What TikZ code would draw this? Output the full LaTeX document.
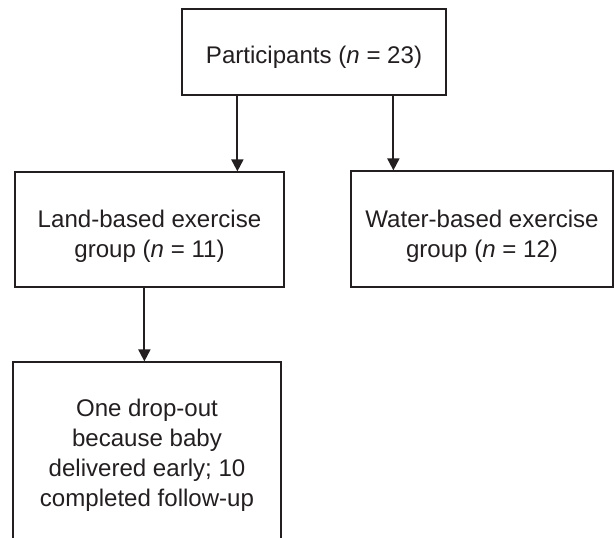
\documentclass[tikz,border=0pt]{standalone}
\usepackage{fontspec}
\setmainfont{Liberation Sans}
\usepackage{tikz}
\usetikzlibrary{arrows.meta,positioning,calc}
\definecolor{ink}{HTML}{231F20}
\newcommand{\topgap}[1]{\rule{0pt}{#1}}

\begin{document}
\begin{tikzpicture}[
  box/.style={draw=ink,line width=0.7pt,inner sep=0pt,align=center,text=ink,font=\fontsize{13.7}{17.1}\selectfont,minimum width=#1},
  box/.default=5.3cm,
  flow/.style={draw=ink,line width=1.1pt,-{Triangle[length=0.24cm,width=0.24cm]}}]
\useasboundingbox (0,0) rectangle (12.3,-10.74);
\node[box=5.28cm,minimum height=1.72cm] (part) at (6.28,-1.04) {\topgap{16pt}Participants (\textit{n} = 23)};
\node[box=5.38cm,minimum height=2.3cm] (land) at (2.99,-4.59) {\topgap{18pt}Land-based exercise\\group (\textit{n} = 11)};
\node[box=5.24cm,minimum height=2.32cm] (water) at (9.64,-4.58) {\topgap{18pt}Water-based exercise\\group (\textit{n} = 12)};
\node[box=5.36cm,minimum height=3.72cm] (drop) at (2.94,-9.1) {One drop-out\\because baby\\delivered early; 10\\completed follow-up};
\draw[flow] ([xshift=1.12cm]part.south west) -- ([xshift=1.12cm]part.south west |- land.north);
\draw[flow] ([xshift=4.24cm]part.south west) -- ([xshift=4.24cm]part.south west |- water.north);
\draw[flow] ([xshift=2.6cm]land.south west) -- ([xshift=2.6cm]land.south west |- drop.north);
\end{tikzpicture}
\end{document}
